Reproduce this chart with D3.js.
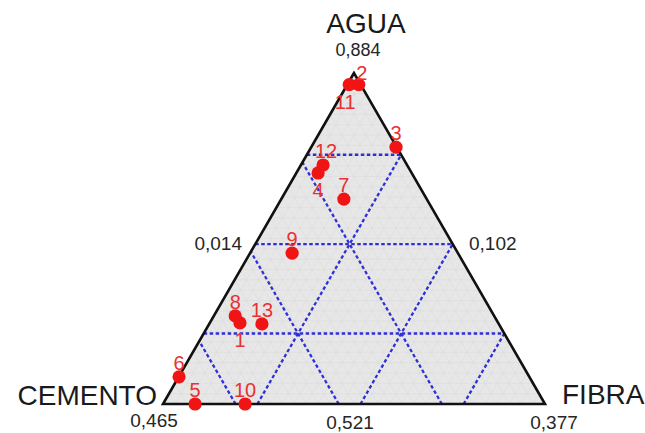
<!DOCTYPE html>
<html>
<head>
<meta charset="utf-8">
<script src="https://cdn.jsdelivr.net/npm/d3@7"></script>
<style>
  html, body { margin: 0; padding: 0; background: #ffffff; }
  svg { display: block; }
  text { font-family: "Liberation Sans", Arial, sans-serif; }
</style>
</head>
<body>
<svg id="chart" width="645" height="433"></svg>
<script>
// ---- data (pseudo-component fractions) ----
const runs    = ["1","2","3","4","5","6","7","8","9","10","11","12","13"];
const agua    = [0.245, 0.965, 0.776, 0.698, 0.000, 0.082, 0.619, 0.266, 0.456, 0.000, 0.965, 0.722, 0.242];
const cemento = [0.676, 0.005, 0.002, 0.245, 0.916, 0.917, 0.217, 0.678, 0.434, 0.785, 0.030, 0.220, 0.620];
const fibra   = [0.079, 0.030, 0.222, 0.057, 0.084, 0.001, 0.164, 0.056, 0.110, 0.215, 0.005, 0.058, 0.138];

// dashed reference grid levels for each component
const gridAgua    = [0.213, 0.483, 0.753];
const gridCemento = [0.270, 0.540, 0.810];
const gridFibra   = [0.247, 0.517, 0.787];

// vertex names and bound labels
const vertexNames = { agua: "AGUA", cemento: "CEMENTO", fibra: "FIBRA" };
const boundLabels = { aguaTop: "0,884", leftMid: "0,014", rightMid: "0,102",
                      cementoBase: "0,465", baseMid: "0,521", fibraBase: "0,377" };

// label placement (layout only)
const labelsBelow = ["1", "4", "11"];

// ---- drawing ----
const svg = d3.select("#chart");
const xS = d3.scaleLinear().domain([0, 1]).range([163, 545]);
const yS = d3.scaleLinear().domain([0, 1]).range([404, 73]);
// ternary -> cartesian
const P = (a, c, f) => [xS(f + a / 2), yS(a)];

const tri = [P(1,0,0), P(0,1,0), P(0,0,1)];

// triangle fill
svg.append("path")
  .attr("d", "M" + tri.map(p => p.join(",")).join("L") + "Z")
  .attr("fill", "#e7e7e7");

// fine faint grid
const fine = d3.range(1, 32).map(i => i / 32);
const fineG = svg.append("g").attr("stroke", "#dcdcdc").attr("stroke-width", 0.6).attr("fill", "none");
fine.forEach(v => {
  const segs = [
    [P(v, 1 - v, 0), P(v, 0, 1 - v)],
    [P(0, 1 - v, v), P(1 - v, 0, v)],
    [P(0, v, 1 - v), P(1 - v, v, 0)]
  ];
  segs.forEach(s => fineG.append("line")
    .attr("x1", s[0][0]).attr("y1", s[0][1]).attr("x2", s[1][0]).attr("y2", s[1][1]));
});

// blue dashed grid
const dashG = svg.append("g").attr("stroke", "#2f2fd6").attr("stroke-width", 2.3)
  .attr("stroke-dasharray", "3.5,2.5").attr("fill", "none");
const segLine = s => dashG.append("line")
  .attr("x1", s[0][0]).attr("y1", s[0][1]).attr("x2", s[1][0]).attr("y2", s[1][1]);
gridAgua.forEach(v => segLine([P(v, 1 - v, 0), P(v, 0, 1 - v)]));
gridFibra.forEach(v => segLine([P(0, 1 - v, v), P(1 - v, 0, v)]));
gridCemento.forEach(v => segLine([P(0, v, 1 - v), P(1 - v, v, 0)]));

// triangle edges
svg.append("path")
  .attr("d", "M" + tri.map(p => p.join(",")).join("L") + "Z")
  .attr("fill", "none").attr("stroke", "#111").attr("stroke-width", 2.6)
  .attr("stroke-linejoin", "miter");

// points
const pts = runs.map((r, i) => ({ r, p: P(agua[i], cemento[i], fibra[i]) }));
svg.append("g").selectAll("circle").data(pts).join("circle")
  .attr("cx", d => d.p[0]).attr("cy", d => d.p[1]).attr("r", 6.6)
  .attr("fill", "#f01414");

// point labels
svg.append("g").selectAll("text").data(pts).join("text")
  .attr("x", d => d.p[0] + (d.r === "2" ? 3 : d.r === "11" ? -4 : d.r === "12" ? 3 : 0))
  .attr("y", d => labelsBelow.includes(d.r) ? d.p[1] + 24 : d.p[1] - (d.r === "2" ? 5 : 7))
  .attr("text-anchor", "middle")
  .attr("font-size", 20)
  .attr("fill", "#ea3030")
  .text(d => d.r);

// axis texts
const T = (x, y, s, size, anchor, col) => svg.append("text")
  .attr("x", x).attr("y", y).attr("font-size", size).attr("text-anchor", anchor)
  .attr("fill", col).text(s);
T(366, 33, vertexNames.agua, 28, "middle", "#1a1a1a");
T(157, 405, vertexNames.cemento, 28, "end", "#1a1a1a");
T(562, 404, vertexNames.fibra, 28, "start", "#1a1a1a");
T(358, 56, boundLabels.aguaTop, 18, "middle", "#262626");
T(242, 250, boundLabels.leftMid, 19, "end", "#262626");
T(469, 250, boundLabels.rightMid, 19, "start", "#262626");
T(154, 427, boundLabels.cementoBase, 19, "middle", "#262626");
T(350, 429, boundLabels.baseMid, 19, "middle", "#262626");
T(554, 429, boundLabels.fibraBase, 19, "middle", "#262626");
</script>
</body>
</html>
